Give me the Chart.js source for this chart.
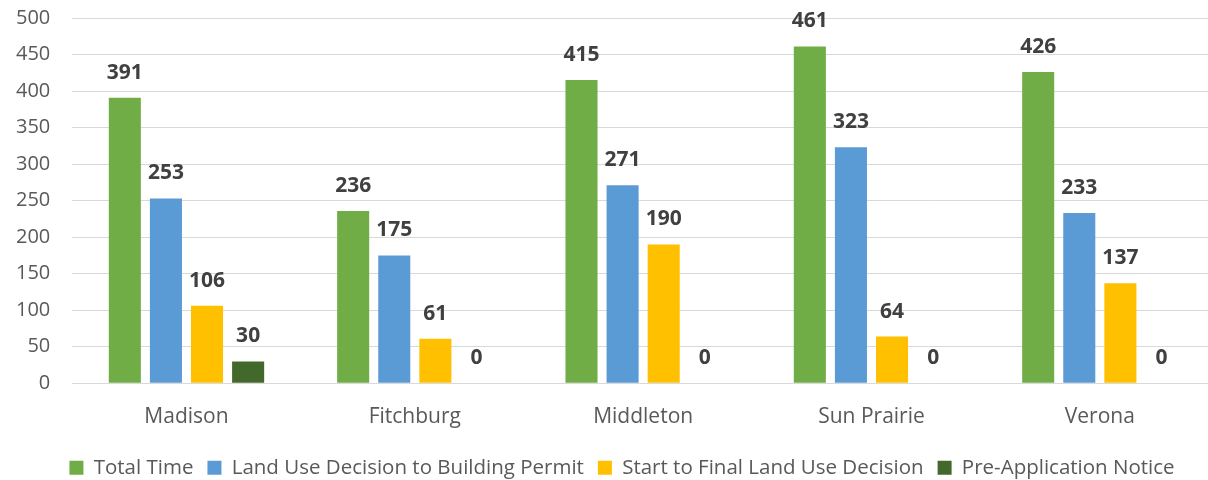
<!DOCTYPE html>
<html>
<head>
<meta charset="utf-8">
<script src="https://cdn.jsdelivr.net/npm/chart.js@4.4.0/dist/chart.umd.min.js"></script>
<style>
  html, body { margin: 0; padding: 0; background: #fff; }
  #wrap { width: 1208px; height: 480px; position: relative; overflow: hidden; }
  #box { position: absolute; left: 0; top: -16px; width: 1214px; height: 504px; }
</style>
</head>
<body>
<div id="wrap"><div id="box"><canvas id="chart"></canvas></div></div>
<script>
// categories and series values
const cities = ['Madison', 'Fitchburg', 'Middleton', 'Sun Prairie', 'Verona'];
const totalTime = [391, 236, 415, 461, 426];
const landUseToPermit = [253, 175, 271, 323, 233];
const startToFinal = [106, 61, 190, 64, 137];
const preApplication = [30, 0, 0, 0, 0];
const yTicks = [0, 50, 100, 150, 200, 250, 300, 350, 400, 450, 500];

const font = "'Open Sans', 'Liberation Sans', sans-serif";

// value labels above each bar
const barLabels = {
    id: 'barLabels',
    afterDatasetsDraw(chart) {
        const ctx = chart.ctx;
        ctx.save();
        ctx.font = 'bold 21px ' + font;
        ctx.fillStyle = '#404040';
        ctx.textAlign = 'center';
        ctx.textBaseline = 'middle';
        chart.data.datasets.forEach((ds, i) => {
            const meta = chart.getDatasetMeta(i);
            meta.data.forEach((bar, j) => {
                ctx.fillText(ds.data[j], bar.x, bar.y - 25);
            });
        });
        ctx.restore();
    }
};

// nudge the legend a little to the right, like the original
const legendShift = {
    id: 'legendShift',
    afterLayout(chart) {
        chart.legend.left += 18;
        chart.legend.right += 18;
    }
};

new Chart(document.getElementById('chart'), {
    type: 'bar',
    data: {
        labels: cities,
        datasets: [
            { label: 'Total Time', data: totalTime, backgroundColor: '#70AD47' },
            { label: 'Land Use Decision to Building Permit', data: landUseToPermit, backgroundColor: '#5B9BD5' },
            { label: 'Start to Final Land Use Decision', data: startToFinal, backgroundColor: '#FFC000' },
            { label: 'Pre-Application Notice', data: preApplication, backgroundColor: '#43682B' }
        ]
    },
    options: {
        responsive: true,
        maintainAspectRatio: false,
        animation: false,
        categoryPercentage: 0.72,
        barPercentage: 0.78,
        layout: { padding: { left: -6, right: 0, top: 0, bottom: 0 } },
        plugins: {
            legend: {
                position: 'bottom',
                labels: {
                    boxWidth: 14,
                    boxHeight: 14,
                    padding: 14,
                    color: '#595959',
                    font: { family: font, size: 20.5 }
                }
            },
            tooltip: { enabled: false }
        },
        scales: {
            x: {
                grid: { display: false },
                border: { display: false },
                ticks: { color: '#595959', font: { family: font, size: 21 }, padding: 13 },
                afterFit: axis => { axis.height += 1; }
            },
            y: {
                min: 0,
                max: 500,
                afterBuildTicks: axis => { axis.ticks = yTicks.map(v => ({ value: v })); },
                grid: { color: '#D9D9D9', drawTicks: false },
                border: { display: false },
                ticks: { color: '#595959', font: { family: font, size: 20 }, padding: 22 }
            }
        }
    },
    plugins: [barLabels, legendShift]
});
</script>
</body>
</html>
